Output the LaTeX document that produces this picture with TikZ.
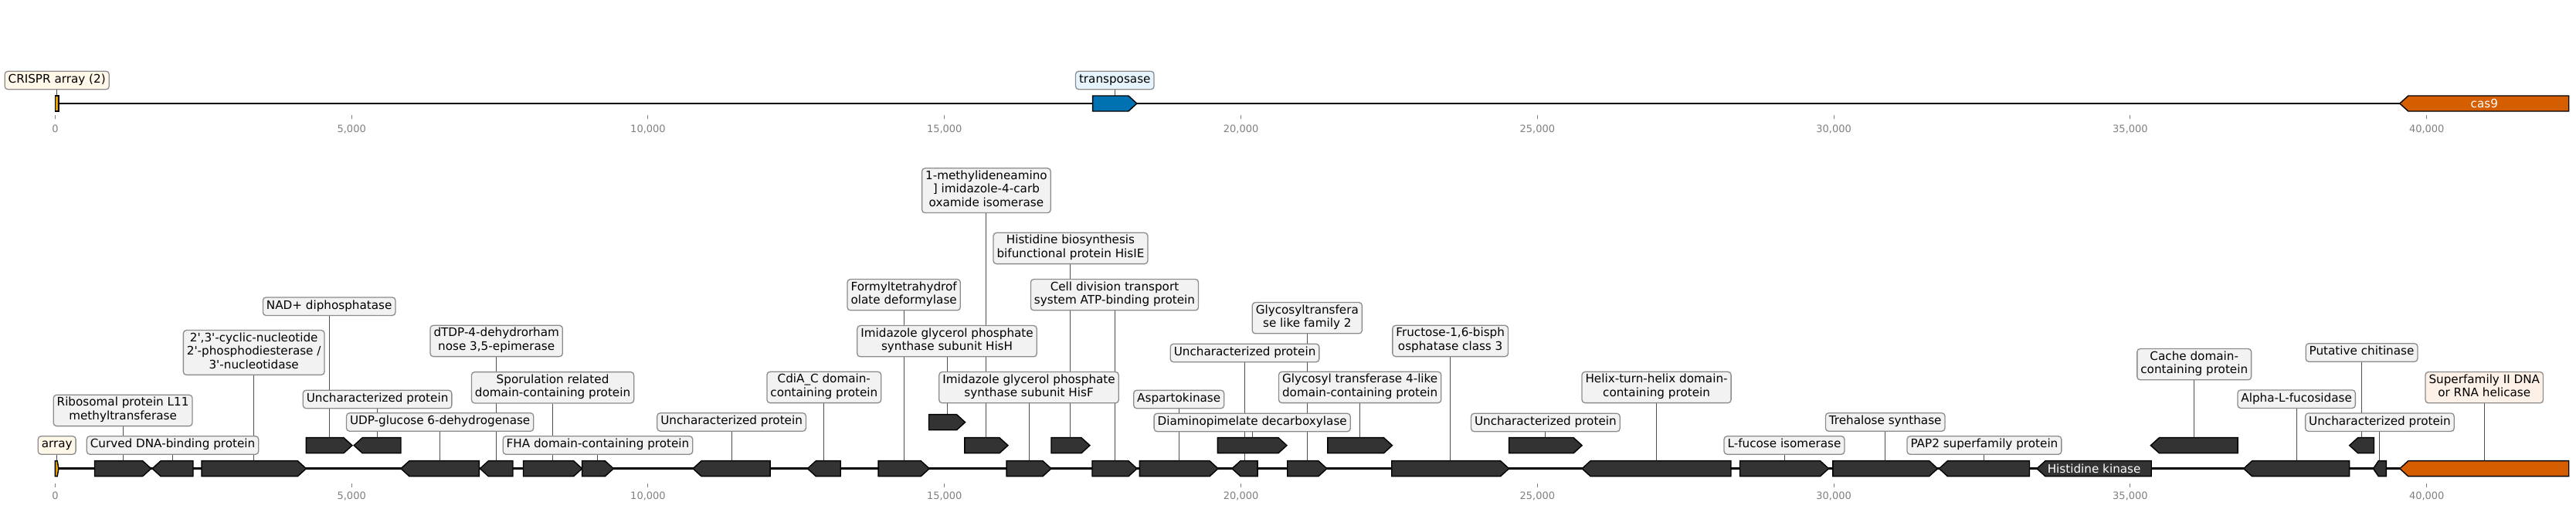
\documentclass[tikz,border=0pt]{standalone}
\usepackage{fontspec}
\setmainfont{DejaVu Sans}
\usetikzlibrary{backgrounds}

\definecolor{genegray}{HTML}{333333}
\definecolor{crisprorange}{HTML}{E69F00}
\definecolor{casred}{HTML}{D55E00}
\definecolor{tnpblue}{HTML}{0072B2}
\definecolor{boxgray}{HTML}{F2F2F2}
\definecolor{boxedge}{HTML}{8C8C8C}
\definecolor{linkgray}{HTML}{505050}
\definecolor{tickgray}{HTML}{808080}
\definecolor{cream}{HTML}{FFF8E8}
\definecolor{icyblue}{HTML}{E6F4FD}
\definecolor{peach}{HTML}{FDF0E6}

\newcommand{\lblfont}{\fontsize{15.2}{17.5}\selectfont}
\newcommand{\tickfont}{\fontsize{13}{15}\selectfont}

% forward gene: name, start, end (kb), y of track (px), fill
\newcommand{\fgene}[5]{%
  \pgfmathsetmacro{\headlen}{min(0.143,0.4*(#3-#2))}
  \draw[gene,fill=#5] (#2,#4-10) -- ({#3-\headlen},#4-10) -- (#3,#4)
     -- ({#3-\headlen},#4+10) -- (#2,#4+10) -- cycle;
  \coordinate (#1) at ({(#2+#3)/2},#4-10);
}
% reverse gene
\newcommand{\rgene}[5]{%
  \pgfmathsetmacro{\headlen}{min(0.143,0.4*(#3-#2))}
  \draw[gene,fill=#5] (#2,#4) -- ({#2+\headlen},#4-10) -- (#3,#4-10)
     -- (#3,#4+10) -- ({#2+\headlen},#4+10) -- cycle;
  \coordinate (#1) at ({(#2+#3)/2},#4-10);
}

\begin{document}
\begin{tikzpicture}[x=76.76pt,y=-1pt,
  gene/.style={draw=black,line width=1.4pt},
  lbl/.style={draw=boxedge,fill=boxgray,rounded corners=4pt,line width=1.3pt,
    inner xsep=4.5pt,inner ysep=3pt,align=center,font=\lblfont,
    execute at begin node=\strut,execute at end node=\strut},
  conn/.style={draw=linkgray,line width=1pt},
  track/.style={line width=2.6pt},
  tickmk/.style={draw=tickgray,line width=1pt},
  ticklbl/.style={text=tickgray,font=\tickfont,inner sep=0pt},
  intxt/.style={text=white,font=\lblfont,inner sep=0pt}]
\useasboundingbox (-0.9302,0) rectangle (42.518,659);

% axes
\foreach \k/\t in {0/0,5/{5,000},10/{10,000},15/{15,000},20/{20,000},25/{25,000},30/{30,000},35/{35,000},40/{40,000}}
{
\draw[tickmk] (\k,149) -- (\k,154);
\node[ticklbl] (ta\k) at (\k,167) {\t};
\draw[tickmk] (\k,626) -- (\k,631);
\node[ticklbl] (tb\k) at (\k,642) {\t};
}

% top track
\begin{scope}[on background layer]
\draw[track] (0,134) -- (39.545,134);
\draw[track] (0,606.7) -- (39.545,606.7);
\end{scope}
\draw[gene,fill=crisprorange] (0,124) rectangle (0.06,144);
\coordinate (crispr) at (0.03,124);
\fgene{tnp}{17.50}{18.245}{134}{tnpblue}
\rgene{cas}{39.545}{42.397}{134}{casred}
\node[intxt] (castxt) at ({(39.545+42.397)/2},134) {cas9};

\node[lbl,fill=cream] (lcrispr) at (crispr |- 0,104) {CRISPR array (2)};
\node[lbl,fill=icyblue] (ltnp) at (tnp |- 0,104) {transposase};

% bottom track
\fgene{arr}{0}{0.06}{606.7}{crisprorange}
\fgene{g1}{0.666}{1.619}{606.7}{genegray}
\rgene{g2}{1.638}{2.327}{606.7}{genegray}
\fgene{g3}{2.470}{4.234}{606.7}{genegray}
\fgene{g4}{4.234}{5.010}{576.7}{genegray}
\rgene{g5}{5.039}{5.831}{576.7}{genegray}
\rgene{g6}{5.831}{7.152}{606.7}{genegray}
\rgene{g7}{7.165}{7.720}{606.7}{genegray}
\fgene{g8}{7.896}{8.888}{606.7}{genegray}
\fgene{g9}{8.888}{9.418}{606.7}{genegray}
\rgene{g10}{10.757}{12.060}{606.7}{genegray}
\rgene{g11}{12.689}{13.247}{606.7}{genegray}
\fgene{g12}{13.884}{14.745}{606.7}{genegray}
\fgene{g13}{14.736}{15.349}{546.7}{genegray}
\fgene{g14}{15.340}{16.071}{576.7}{genegray}
\fgene{g15}{16.047}{16.800}{606.7}{genegray}
\fgene{g16}{16.800}{17.452}{576.7}{genegray}
\fgene{g17}{17.491}{18.247}{606.7}{genegray}
\fgene{g18}{18.291}{19.615}{606.7}{genegray}
\rgene{g19}{19.849}{20.281}{606.7}{genegray}
\fgene{g20}{19.607}{20.774}{576.7}{genegray}
\fgene{g21}{20.784}{21.450}{606.7}{genegray}
\fgene{g22}{21.463}{22.552}{576.7}{genegray}
\fgene{g23}{22.543}{24.521}{606.7}{genegray}
\fgene{g24}{24.521}{25.753}{576.7}{genegray}
\rgene{g25}{25.753}{28.265}{606.7}{genegray}
\fgene{g26}{28.415}{29.913}{606.7}{genegray}
\fgene{g27}{29.983}{31.751}{606.7}{genegray}
\rgene{g28}{31.775}{33.300}{606.7}{genegray}
\rgene{g29}{33.424}{35.356}{606.7}{genegray}
\node[intxt] (hktxt) at ({(33.424+35.356)/2},606.7) {Histidine kinase};
\rgene{g30}{35.344}{36.813}{576.7}{genegray}
\rgene{g31}{36.911}{38.696}{606.7}{genegray}
\rgene{g32}{38.696}{39.110}{576.7}{genegray}
\rgene{g33}{39.098}{39.317}{606.7}{genegray}
\rgene{hel}{39.545}{42.397}{606.7}{casred}

% labels
\node[lbl,fill=cream] (larr) at (arr |- 0,576.5) {array};
\node[lbl] (lg1) at (g1 |- 0,531.5) {Ribosomal protein L11\\methyltransferase};
\node[lbl] (lg2) at (g2 |- 0,576.5) {Curved DNA-binding protein};
\node[lbl] (lg3) at (g3 |- 0,456.5) {2\textquotesingle,3\textquotesingle-cyclic-nucleotide\\2\textquotesingle-phosphodiesterase /\\3\textquotesingle-nucleotidase};
\node[lbl] (lg4) at (g4 |- 0,396.7) {NAD+ diphosphatase};
\node[lbl] (lg5) at (g5 |- 0,517) {Uncharacterized protein};
\node[lbl] (lg6) at (g6 |- 0,546.5) {UDP-glucose 6-dehydrogenase};
\node[lbl] (lg7) at (g7 |- 0,441.5) {dTDP-4-dehydrorham\\nose 3,5-epimerase};
\node[lbl] (lg8) at (g8 |- 0,501.8) {Sporulation related\\domain-containing protein};
\node[lbl] (lg9) at (g9 |- 0,576.5) {FHA domain-containing protein};
\node[lbl] (lg10) at (g10 |- 0,546.5) {Uncharacterized protein};
\node[lbl] (lg11) at (g11 |- 0,501.5) {CdiA\_C domain-\\containing protein};
\node[lbl] (lg12) at (g12 |- 0,381.7) {Formyltetrahydrof\\olate deformylase};
\node[lbl] (lg13) at (g13 |- 0,441.7) {Imidazole glycerol phosphate\\synthase subunit HisH};
\node[lbl] (lg14) at (g14 |- 0,246.7) {1-methylideneamino\\] imidazole-4-carb\\oxamide isomerase};
\node[lbl] (lg15) at (g15 |- 0,501.7) {Imidazole glycerol phosphate\\synthase subunit HisF};
\node[lbl] (lg16) at (g16 |- 0,321.5) {Histidine biosynthesis\\bifunctional protein HisIE};
\node[lbl] (lg17) at (g17 |- 0,381.7) {Cell division transport\\system ATP-binding protein};
\node[lbl] (lg18) at (g18 |- 0,517) {Aspartokinase};
\node[lbl] (lg19) at (g19 |- 0,457) {Uncharacterized protein};
\node[lbl] (lg20) at (g20 |- 0,547) {Diaminopimelate decarboxylase};
\node[lbl] (lg21) at (g21 |- 0,411.7) {Glycosyltransfera\\se like family 2};
\node[lbl] (lg22) at (g22 |- 0,501.5) {Glycosyl transferase 4-like\\domain-containing protein};
\node[lbl] (lg23) at (g23 |- 0,441.5) {Fructose-1,6-bisph\\osphatase class 3};
\node[lbl] (lg24) at (g24 |- 0,547) {Uncharacterized protein};
\node[lbl] (lg25) at (g25 |- 0,501.5) {Helix-turn-helix domain-\\containing protein};
\node[lbl] (lg26) at (g26 |- 0,576.5) {L-fucose isomerase};
\node[lbl] (lg27) at (g27 |- 0,546.5) {Trehalose synthase};
\node[lbl] (lg28) at (g28 |- 0,576.5) {PAP2 superfamily protein};
\node[lbl] (lg30) at (g30 |- 0,471.7) {Cache domain-\\containing protein};
\node[lbl] (lg31) at (g31 |- 0,516.7) {Alpha-L-fucosidase};
\node[lbl] (lg32) at (g32 |- 0,456.5) {Putative chitinase};
\node[lbl] (lg33) at (g33 |- 0,546.7) {Uncharacterized protein};
\node[lbl,fill=peach] (lhel) at (hel |- 0,501.7) {Superfamily II DNA\\or RNA helicase};

% connectors behind the boxes
\begin{scope}[on background layer]
\foreach \g in {crispr,tnp,arr,g1,g2,g3,g4,g5,g6,g7,g8,g9,g10,g11,g12,g13,g14,g15,g16,g17,g18,g19,g20,g21,g22,g23,g24,g25,g26,g27,g28,g30,g31,g32,g33,hel}
  \draw[conn] (l\g) -- (\g);
\end{scope}
\end{tikzpicture}
\end{document}
